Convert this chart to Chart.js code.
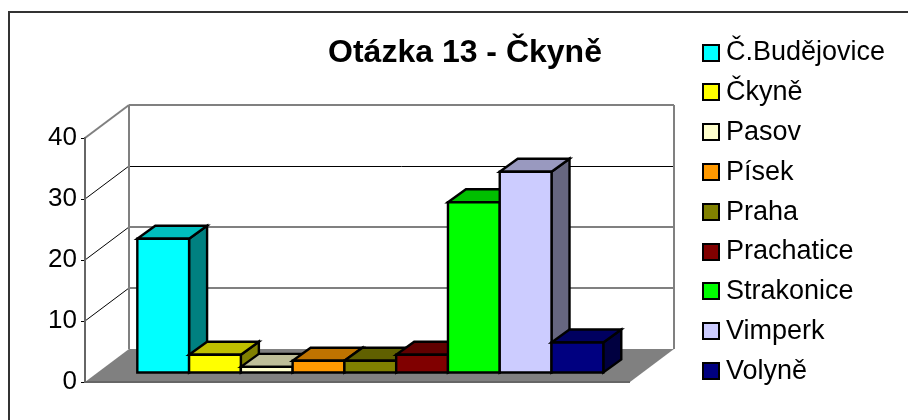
<!DOCTYPE html>
<html>
<head>
<meta charset="utf-8">
<title>Otázka 13 - Čkyně</title>
<script src="https://cdn.jsdelivr.net/npm/chart.js@4/dist/chart.umd.min.js"></script>
<style>
  body { margin: 0; background: #fff; }
  canvas { display: block; }
</style>
</head>
<body>
<canvas id="chart13" width="908" height="420"></canvas>
<script>
const titleText = 'Otázka 13 - Čkyně';
const categories = [''];
const cities = ['Č.Budějovice', 'Čkyně', 'Pasov', 'Písek', 'Praha', 'Prachatice', 'Strakonice', 'Vimperk', 'Volyně'];
const answers = [22, 3, 1, 2, 2, 3, 28, 33, 5];
const colors = ['#00FFFF', '#FFFF00', '#FFFFCC', '#FF9900', '#808000', '#800000', '#00FF00', '#CCCCFF', '#000080'];
const yTicksStep = 10;
const yMax = 40;

const FONT = "'Liberation Sans', Arial, sans-serif";
// hloubka 3D pohledu (zadni stena, posun sloupcu, hloubka sloupce)
const WALL_DX = 44, WALL_DY = -33;
const BAR_DX = 12.8, BAR_DY = -9;
const SIDE_DX = 18, SIDE_DY = -13;
const GRAY = '#808080';

function shade(hex, k) {
  const n = parseInt(hex.slice(1), 16);
  const part = s => Math.round(((n >> s) & 255) * k);
  return 'rgb(' + part(16) + ',' + part(8) + ',' + part(0) + ')';
}

function line(ctx, x1, y1, x2, y2, color, width) {
  ctx.strokeStyle = color;
  ctx.lineWidth = width;
  ctx.beginPath();
  ctx.moveTo(x1, y1);
  ctx.lineTo(x2, y2);
  ctx.stroke();
}

function face(ctx, pts, fill) {
  ctx.strokeStyle = '#000';
  ctx.lineWidth = 2.4;
  ctx.lineJoin = 'miter';
  ctx.beginPath();
  pts.forEach((p, i) => i ? ctx.lineTo(p[0], p[1]) : ctx.moveTo(p[0], p[1]));
  ctx.closePath();
  if (fill) {
    ctx.fillStyle = fill;
    ctx.fill();
  }
  ctx.stroke();
}

// ramecek, podlaha a steny
const wallsPlugin = {
  id: 'walls',
  beforeDraw(chart) {
    const { ctx, chartArea: a, scales: { y } } = chart;
    const bottom = y.getPixelForValue(0);
    const top = y.getPixelForValue(yMax);
    ctx.save();
    ctx.fillStyle = '#fff';
    ctx.fillRect(0, 0, chart.width, chart.height);
    line(ctx, 8, 12, chart.width, 12, '#333', 2);
    line(ctx, 9, 12, 9, chart.height, '#333', 2);

    ctx.fillStyle = GRAY;
    ctx.beginPath();
    ctx.moveTo(a.left, bottom);
    ctx.lineTo(a.right, bottom);
    ctx.lineTo(a.right + WALL_DX, bottom + WALL_DY);
    ctx.lineTo(a.left + WALL_DX, bottom + WALL_DY);
    ctx.closePath();
    ctx.fill();
    line(ctx, a.left, bottom, a.right, bottom, '#666', 2);

    y.ticks.forEach(t => {
      if (t.value === 0) return;
      const py = y.getPixelForValue(t.value);
      const backY = py + WALL_DY;
      if (t.value === yMax) {
        line(ctx, a.left, py, a.left + WALL_DX, backY, GRAY, 2);
        line(ctx, a.left + WALL_DX, backY, a.right + WALL_DX, backY, GRAY, 2);
      } else {
        line(ctx, a.left, py, a.left + WALL_DX, backY, '#000', 1);
        if (t.value === 30) line(ctx, a.left + WALL_DX, backY + 0.5, a.right + WALL_DX, backY + 0.5, '#000', 1);
        else line(ctx, a.left + WALL_DX, backY, a.right + WALL_DX, backY, GRAY, 2);
      }
    });
    line(ctx, a.left + WALL_DX, top + WALL_DY, a.left + WALL_DX, bottom + WALL_DY, GRAY, 2);
    line(ctx, a.right + WALL_DX, top + WALL_DY, a.right + WALL_DX, bottom + WALL_DY, GRAY, 2);
    ctx.restore();
  },
  afterLayout(chart) {
    // titul neni nad osou, ale nad celym grafem s legendou
    chart.titleBlock.left = 300;
    chart.titleBlock.right = 630;
  }
};

// sloupce kreslime zleva doprava, aby se spravne prekryvaly;
// horni a bocni stena jsou nase, predni stenu kresli Chart.js
const barsPlugin = {
  id: 'bars3d',
  beforeDatasetsDraw(chart) {
    const { ctx } = chart;
    cities.forEach((name, i) => {
      const meta = chart.getDatasetMeta(i);
      const bar = meta.data[0];
      const l = bar.x - bar.width / 2, r = bar.x + bar.width / 2;
      ctx.save();
      ctx.translate(BAR_DX, BAR_DY);
      face(ctx, [[r, bar.y], [r + SIDE_DX, bar.y + SIDE_DY], [r + SIDE_DX, bar.base + SIDE_DY], [r, bar.base]], shade(colors[i], 0.5));
      face(ctx, [[l, bar.y], [l + SIDE_DX, bar.y + SIDE_DY], [r + SIDE_DX, bar.y + SIDE_DY], [r, bar.y]], shade(colors[i], 0.75));
      meta.controller.draw();
      face(ctx, [[l, bar.y], [r, bar.y], [r, bar.base], [l, bar.base]]);
      ctx.restore();
    });
    return false;
  }
};

const legendPlugin = {
  id: 'sideLegend',
  afterDraw(chart) {
    const { ctx } = chart;
    ctx.save();
    ctx.font = '27px ' + FONT;
    ctx.textBaseline = 'middle';
    cities.forEach((name, i) => {
      const y = 52.5 + i * 39.8;
      ctx.fillStyle = colors[i];
      ctx.strokeStyle = '#000';
      ctx.lineWidth = 2;
      ctx.fillRect(703, Math.round(y) - 8, 16, 16);
      ctx.strokeRect(703, Math.round(y) - 8, 16, 16);
      ctx.fillStyle = '#000';
      ctx.fillText(name, 726, y + 0.5);
    });
    ctx.restore();
  }
};

const cfg13 = {
  type: 'bar',
  data: {
    labels: categories,
    datasets: cities.map((name, i) => ({
      label: name,
      data: [answers[i]],
      backgroundColor: colors[i],
      borderWidth: 0
    }))
  },
  options: {
    responsive: false,
    animation: false,
    layout: { padding: { top: 34, left: 0, right: 278, bottom: 38 } },
    datasets: { bar: { categoryPercentage: 0.855, barPercentage: 1 } },
    plugins: {
      legend: { display: false },
      tooltip: { enabled: false },
      title: {
        display: true,
        text: titleText,
        color: '#000',
        font: { family: FONT, size: 32, weight: 'bold', lineHeight: 1.2 },
        padding: { top: 0, bottom: 65.6 }
      }
    },
    scales: {
      x: { display: false },
      y: {
        min: 0,
        max: yMax,
        afterFit(scale) { scale.width = 85; },
        ticks: { stepSize: yTicksStep, color: '#000', padding: 4, font: { family: FONT, size: 26 } },
        grid: { drawOnChartArea: false, color: '#000', tickLength: 4, tickWidth: 1 },
        border: { color: '#666', width: 2 }
      }
    }
  },
  plugins: [wallsPlugin, barsPlugin, legendPlugin]
};

new Chart(document.getElementById('chart13').getContext('2d'), cfg13);
</script>
</body>
</html>
